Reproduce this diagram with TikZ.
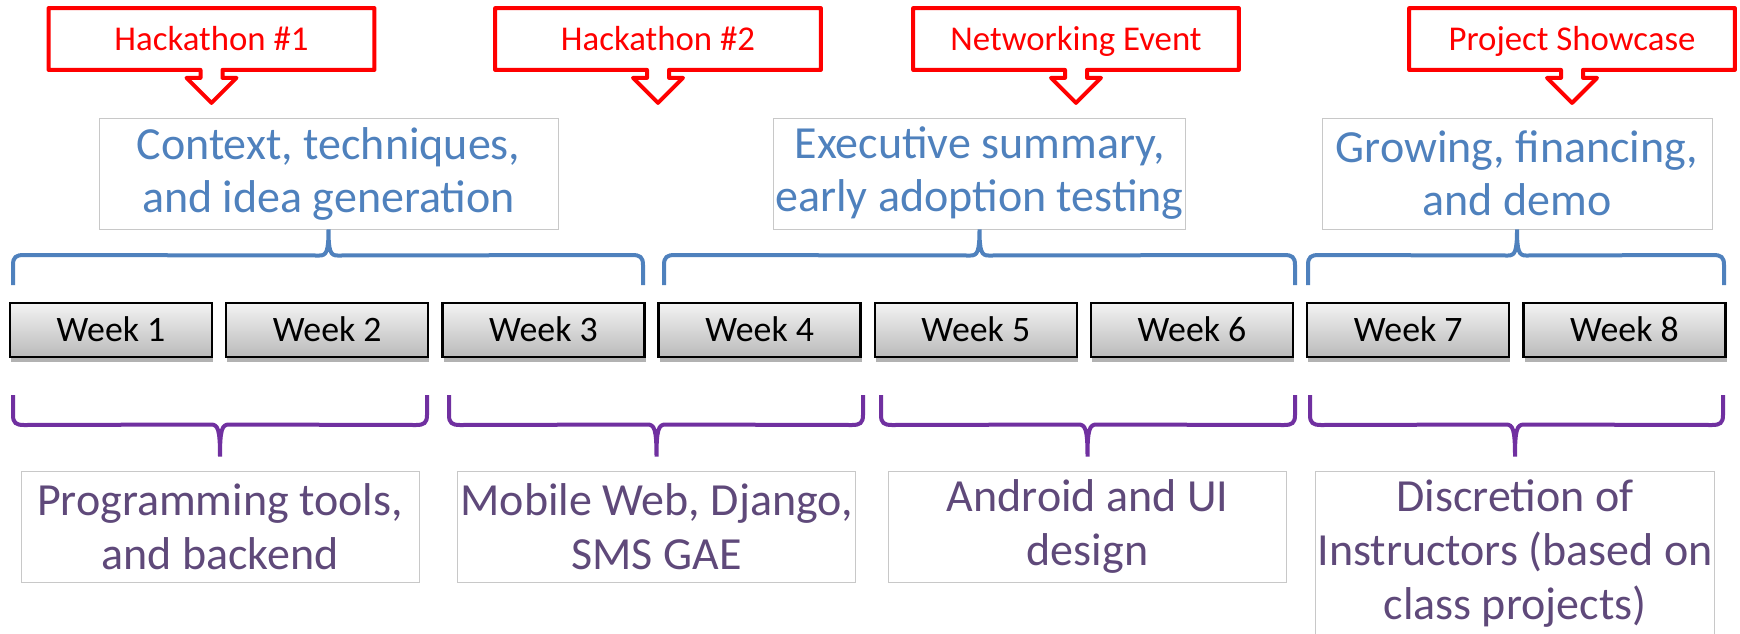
\documentclass[tikz,border=0pt]{standalone}
\usepackage{fontspec}
\setmainfont{Carlito}
\usetikzlibrary{calc,shadows}

\definecolor{eventred}{RGB}{255,0,0}
\definecolor{topicblue}{RGB}{79,129,189}
\definecolor{tooltext}{RGB}{95,73,122}
\definecolor{toolpurple}{RGB}{112,48,160}
\definecolor{boxgray}{RGB}{200,200,200}
\definecolor{weektop}{RGB}{243,243,243}
\definecolor{weekbot}{RGB}{186,186,186}

\tikzset{
  weekbox/.style={draw=black, line width=1.2pt, top color=weektop, bottom color=weekbot,
    minimum width=101pt, minimum height=27pt, inner sep=0pt,
    text height=11.3pt, text depth=0pt, font=\fontsize{17.9}{20}\selectfont,
    drop shadow={shadow xshift=0.6pt, shadow yshift=-2.5pt, opacity=0.3, fill=black}},
  eventbox/.style={minimum width=162.5pt, minimum height=30.5pt, inner sep=0pt,
    text height=11pt, text depth=0pt, text=eventred, font=\fontsize{17.4}{20}\selectfont},
  eventline/.style={draw=eventred, line width=2pt, line join=round},
  topicbox/.style={draw=boxgray, line width=0.5pt, align=center, inner sep=1pt,
    minimum height=55.5pt, text=topicblue, font=\fontsize{23}{26.5}\selectfont},
  toolbox/.style={draw=boxgray, line width=0.5pt, align=center, inner sep=1pt,
    minimum width=199pt, minimum height=55.5pt, text=tooltext, font=\fontsize{23}{27}\selectfont},
  topbrace/.style={draw=topicblue, line width=2pt},
  botbrace/.style={draw=toolpurple, line width=2pt},
}

\begin{document}
\begin{tikzpicture}[x=0.5pt, y=-0.5pt]
    \useasboundingbox (0,0) rectangle (1740,633);
    \clip (0,0) rectangle (1740,633);

    % Events
    \node[eventbox] at (211.5,39)  (e1) {Hackathon \#1};
    \node[eventbox] at (658,39)    (e2) {Hackathon \#2};
    \node[eventbox] at (1076,39)   (e3) {Networking Event};
    \node[eventbox] at (1572,39)   (e4) {Project Showcase};

    \foreach \n in {e1,e2,e3,e4}{
        \draw[eventline] (\n.south west) |- (\n.north east) |- ($(\n.south)+(11,0)$)
            -- ++(0,8) -- ++(14,0) -- ($(\n.south)+(0,33)$) -- ($(\n.south)+(-25,8)$)
            -- ++(14,0) -- ++(0,-8) -- cycle;
    }

    % Topics
    \node[topicbox, minimum width=229.5pt] at (328.5,173.5) (t1) {Context, techniques,\\and idea generation};
    \node[topicbox, minimum width=205.5pt] at (979.5,173.5) (t2) {Executive summary,\\early adoption testing};
    \node[topicbox, minimum width=195pt]   at (1517,173.5)  (t3) {Growing, financing,\\and demo};

    % Weeks
    \foreach \i in {1,...,8}
        \node[weekbox] at ({111+216.2*(\i-1)},330) (w\i) {Week \i};

    % Tools
    \node[toolbox] at (220,526.5)   (p1) {Programming tools,\\and backend};
    \node[toolbox] at (656.5,526.5) (p2) {Mobile Web, Django,\\SMS GAE};
    \node[toolbox] at (1087.5,526.5) (p3) {Android and UI\\design};
    \node[toolbox, minimum height=82.5pt] at (1515,553.5) (p4) {Discretion of\\Instructors (based on\\class projects)};

    % Braces above the weeks
    \foreach \l/\r/\t in {13/643/t1, 664/1295/t2, 1308/1724/t3}{
        \draw[topbrace] (\l,285) -- (\l,265) .. controls (\l,257) and (\l+3,255) .. (\l+11,255)
            -- ($(\t.south)+(-9,26)$) .. controls ($(\t.south)+(-2,26)$) and ($(\t.south)+(0,22)$) .. (\t.south)
            .. controls ($(\t.south)+(0,22)$) and ($(\t.south)+(2,26)$) .. ($(\t.south)+(9,26)$)
            -- (\r-11,255) .. controls (\r-3,255) and (\r,257) .. (\r,265) -- (\r,285);
    }

    % Braces below the weeks
    \foreach \l/\r/\p in {13/427/p1, 449/863/p2, 881/1295/p3, 1310/1723/p4}{
        \coordinate (tip) at ($(\p.north)+(0,-14)$);
        \draw[botbrace] (\l,395) -- (\l,415) .. controls (\l,423) and (\l+3,425) .. (\l+11,425)
            -- ($(tip)+(-9,-32)$) .. controls ($(tip)+(-2,-32)$) and ($(tip)+(0,-27)$) .. (tip)
            .. controls ($(tip)+(0,-27)$) and ($(tip)+(2,-32)$) .. ($(tip)+(9,-32)$)
            -- (\r-11,425) .. controls (\r-3,425) and (\r,423) .. (\r,415) -- (\r,395);
    }
\end{tikzpicture}
\end{document}
